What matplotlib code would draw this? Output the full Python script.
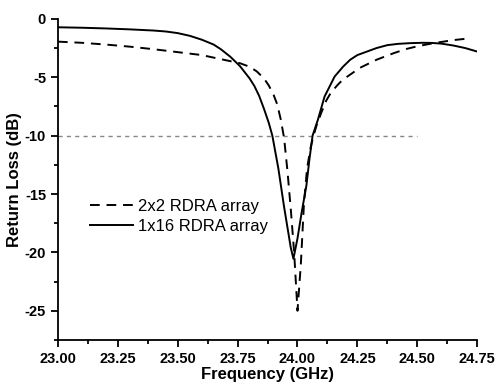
import matplotlib.pyplot as plt
from matplotlib.ticker import MultipleLocator

plt.rcParams['font.family'] = ['Liberation Sans', 'DejaVu Sans']
plt.rcParams['axes.unicode_minus'] = False

# 2x2 RDRA array (dashed)
freq_2x2 = [23.00, 23.10, 23.20, 23.30, 23.40, 23.50, 23.60, 23.68, 23.76, 23.80,
            23.83, 23.86, 23.88, 23.90, 23.915, 23.93, 23.944, 23.958, 23.972, 23.986,
            24.000, 24.014, 24.027, 24.040, 24.055, 24.067, 24.08, 24.10, 24.12, 24.14,
            24.17, 24.19, 24.26, 24.30, 24.33, 24.40, 24.45, 24.50, 24.55, 24.60,
            24.65, 24.705]
rl_2x2 = [-1.95, -2.05, -2.2, -2.38, -2.6, -2.85, -3.1, -3.45, -3.8, -4.1,
          -4.5, -5.1, -5.7, -6.5, -7.3, -8.6, -10.2, -13.0, -16.3, -20.0,
          -25.0, -21.0, -15.8, -12.8, -11.0, -10.0, -9.1, -8.0, -7.0, -6.3,
          -5.6, -5.2, -4.2, -3.8, -3.5, -2.95, -2.6, -2.35, -2.15, -1.98,
          -1.82, -1.7]

# 1x16 RDRA array (solid)
freq_1x16 = [23.00, 23.10, 23.20, 23.30, 23.40, 23.45, 23.50, 23.55, 23.60, 23.65,
             23.68, 23.72, 23.76, 23.80, 23.82, 23.84, 23.86, 23.88, 23.895, 23.92, 23.944,
             23.96, 23.972, 23.983, 24.00, 24.018, 24.037, 24.05, 24.063, 24.085, 24.113,
             24.155, 24.19, 24.22, 24.25, 24.29, 24.33, 24.375, 24.42, 24.47, 24.52,
             24.56, 24.60, 24.65, 24.70, 24.75]
rl_1x16 = [-0.72, -0.76, -0.82, -0.9, -1.0, -1.08, -1.22, -1.45, -1.78, -2.2,
           -2.6, -3.25, -4.05, -5.1, -5.75, -6.6, -7.7, -8.9, -10.0, -12.8, -16.1,
           -18.1, -19.6, -20.55, -18.8, -16.5, -14.3, -12.0, -10.0, -8.65, -6.65,
           -4.94, -4.1, -3.5, -3.1, -2.8, -2.5, -2.25, -2.14, -2.08, -2.05,
           -2.06, -2.12, -2.28, -2.5, -2.8]

ref_freq = [23.00, 24.50]
ref_level = [-10, -10]

fig = plt.figure(figsize=(4.95, 3.85), dpi=100)
ax = fig.add_axes([0.117, 0.117, 0.847, 0.834])

ax.plot(ref_freq, ref_level, color='#888888', lw=1.0, dashes=(3, 3))
ax.plot(freq_2x2, rl_2x2, color='black', lw=1.4, dashes=(5, 3.5), label='2x2 RDRA array')
ax.plot(freq_1x16, rl_1x16, color='black', lw=1.4, label='1x16 RDRA array')

ax.set_xlim(23.0, 24.75)
ax.set_ylim(-27.5, 0)
ax.xaxis.set_major_locator(MultipleLocator(0.25))
ax.xaxis.set_minor_locator(MultipleLocator(0.125))
ax.yaxis.set_major_locator(MultipleLocator(5))
ax.yaxis.set_minor_locator(MultipleLocator(2.5))
ax.spines['top'].set_visible(False)
ax.spines['right'].set_visible(False)
ax.spines['left'].set_linewidth(1.3)
ax.spines['bottom'].set_linewidth(1.3)
ax.tick_params(which='major', direction='out', length=5, width=1.3, labelsize=10.5)
ax.tick_params(which='minor', direction='out', length=3, width=1.3)
for lab in ax.get_xticklabels() + ax.get_yticklabels():
    lab.set_fontweight('bold')

ax.set_xlabel('Frequency (GHz)', fontsize=12, fontweight='bold', labelpad=1)
ax.set_ylabel('Return Loss (dB)', fontsize=12, fontweight='bold', labelpad=2)

ax.legend(loc='upper left', bbox_to_anchor=(0.06, 0.46), frameon=False, fontsize=12,
          handlelength=2.6, handletextpad=0.3, labelspacing=0.3, borderaxespad=0)

fig.savefig('out.png', dpi=100)
